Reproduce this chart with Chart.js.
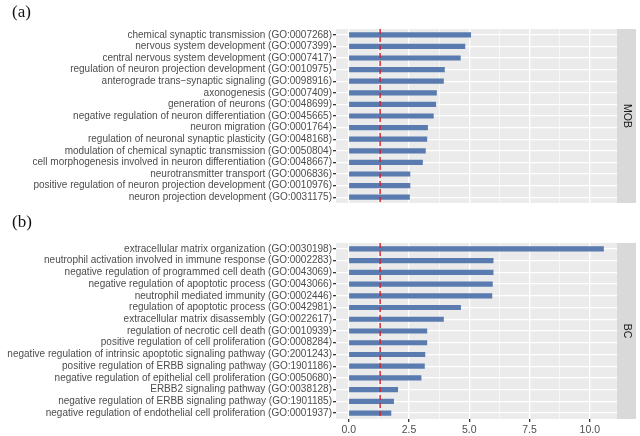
<!DOCTYPE html>
<html>
<head>
<meta charset="utf-8">
<script src="https://cdn.jsdelivr.net/npm/chart.js@4/dist/chart.umd.min.js"></script>
<style>
  body { margin: 0; background: #fff; }
  .wrap { position: absolute; left: 0; width: 640px; }
  .tag { position: absolute; left: 12px; font-family: "Liberation Serif", serif; font-size: 17px; color: #111; }
</style>
</head>
<body>
<div class="wrap" style="top:0;height:210px"><canvas id="chartA" width="640" height="210"></canvas></div>
<div class="wrap" style="top:210px;height:226px"><canvas id="chartB" width="640" height="226"></canvas></div>
<div class="tag" style="top:2px">(a)</div>
<div class="tag" style="top:212px">(b)</div>
<script>
// GO terms and -log10(p) values
const mobTerms = [
  'chemical synaptic transmission (GO:0007268)',
  'nervous system development (GO:0007399)',
  'central nervous system development (GO:0007417)',
  'regulation of neuron projection development (GO:0010975)',
  'anterograde trans\u2212synaptic signaling (GO:0098916)',
  'axonogenesis (GO:0007409)',
  'generation of neurons (GO:0048699)',
  'negative regulation of neuron differentiation (GO:0045665)',
  'neuron migration (GO:0001764)',
  'regulation of neuronal synaptic plasticity (GO:0048168)',
  'modulation of chemical synaptic transmission (GO:0050804)',
  'cell morphogenesis involved in neuron differentiation (GO:0048667)',
  'neurotransmitter transport (GO:0006836)',
  'positive regulation of neuron projection development (GO:0010976)',
  'neuron projection development (GO:0031175)'
];
const mobValues = [5.06, 4.82, 4.63, 3.97, 3.93, 3.64, 3.61, 3.51, 3.27, 3.24, 3.18, 3.06, 2.54, 2.54, 2.52];

const bcTerms = [
  'extracellular matrix organization (GO:0030198)',
  'neutrophil activation involved in immune response (GO:0002283)',
  'negative regulation of programmed cell death (GO:0043069)',
  'negative regulation of apoptotic process (GO:0043066)',
  'neutrophil mediated immunity (GO:0002446)',
  'regulation of apoptotic process (GO:0042981)',
  'extracellular matrix disassembly (GO:0022617)',
  'regulation of necrotic cell death (GO:0010939)',
  'positive regulation of cell proliferation (GO:0008284)',
  'negative regulation of intrinsic apoptotic signaling pathway (GO:2001243)',
  'positive regulation of ERBB signaling pathway (GO:1901186)',
  'negative regulation of epithelial cell proliferation (GO:0050680)',
  'ERBB2 signaling pathway (GO:0038128)',
  'negative regulation of ERBB signaling pathway (GO:1901185)',
  'negative regulation of endothelial cell proliferation (GO:0001937)'
];
const bcValues = [10.57, 5.99, 5.99, 5.96, 5.94, 4.64, 3.93, 3.24, 3.24, 3.16, 3.14, 3.00, 2.03, 1.86, 1.75];

const xTicks = [0, 2.5, 5, 7.5, 10];
const xMin = -0.53, xMax = 11.13;
const cutoff = 1.301; // -log10(0.05)

const panelBg = {
  id: 'panelBg',
  beforeDraw(chart) {
    const a = chart.chartArea, c = chart.ctx;
    c.save();
    c.fillStyle = '#EBEBEB';
    c.fillRect(a.left, a.top, a.right - a.left, a.bottom - a.top);
    c.restore();
  }
};

const extras = {
  id: 'extras',
  afterDatasetsDraw(chart, args, opts) {
    const a = chart.chartArea, c = chart.ctx;
    const x = chart.scales.x.getPixelForValue(cutoff);
    c.save();
    c.strokeStyle = '#D2232A';
    c.lineWidth = 1.4;
    c.setLineDash([5, 3]);
    c.beginPath();
    c.moveTo(x, a.top);
    c.lineTo(x, a.bottom);
    c.stroke();
    c.setLineDash([]);
    // facet strip
    c.fillStyle = '#D9D9D9';
    c.fillRect(a.right, a.top, 19, a.bottom - a.top);
    c.translate(a.right + 9.5, (a.top + a.bottom) / 2);
    c.rotate(Math.PI / 2);
    c.fillStyle = '#1A1A1A';
    c.font = '10.5px "Liberation Sans", Arial, sans-serif';
    c.textAlign = 'center';
    c.textBaseline = 'middle';
    c.fillText(opts.strip, 0, 0);
    c.restore();
  }
};

function makeChart(id, terms, values, strip, showX) {
  const minor = v => xTicks.indexOf(v) < 0;
  return new Chart(document.getElementById(id), {
    type: 'bar',
    data: {
      labels: terms,
      datasets: [{
        data: values,
        backgroundColor: '#5A7BAF',
        barThickness: 4.5
      }]
    },
    options: {
      indexAxis: 'y',
      responsive: false,
      animation: false,
      layout: { padding: { top: showX ? 33 : 29, right: 23, bottom: showX ? 0 : 3, left: 0 } },
      plugins: {
        legend: { display: false },
        tooltip: { enabled: false },
        extras: { strip: strip }
      },
      scales: {
        x: {
          min: xMin,
          max: xMax,
          afterBuildTicks: s => {
            s.ticks = [0, 1.25, 2.5, 3.75, 5, 6.25, 7.5, 8.75, 10].map(v => ({ value: v }));
          },
          afterFit: s => { s.height = showX ? 17 : 0; },
          border: { display: false },
          grid: {
            color: '#FFFFFF',
            lineWidth: ctx => minor(ctx.tick.value) ? 0.6 : 1.3,
            drawTicks: showX,
            tickLength: 3,
            tickColor: ctx => minor(ctx.tick.value) ? 'rgba(0,0,0,0)' : '#333333'
          },
          ticks: {
            display: showX,
            autoSkip: false,
            maxRotation: 0,
            padding: 2,
            color: '#4D4D4D',
            font: { family: '"Liberation Sans", Arial, sans-serif', size: 10.5 },
            callback: v => minor(v) ? '' : v.toFixed(1)
          }
        },
        y: {
          afterFit: s => { s.width = 336; },
          border: { display: false },
          grid: {
            offset: false,
            color: '#FFFFFF',
            lineWidth: 1.3,
            tickLength: 3,
            tickColor: '#333333'
          },
          ticks: {
            autoSkip: false,
            padding: 1,
            color: '#4D4D4D',
            font: { family: '"Liberation Sans", Arial, sans-serif', size: 10 }
          }
        }
      }
    },
    plugins: [panelBg, extras]
  });
}

makeChart('chartA', mobTerms, mobValues, 'MOB', false);
makeChart('chartB', bcTerms, bcValues, 'BC', true);
</script>
</body>
</html>
